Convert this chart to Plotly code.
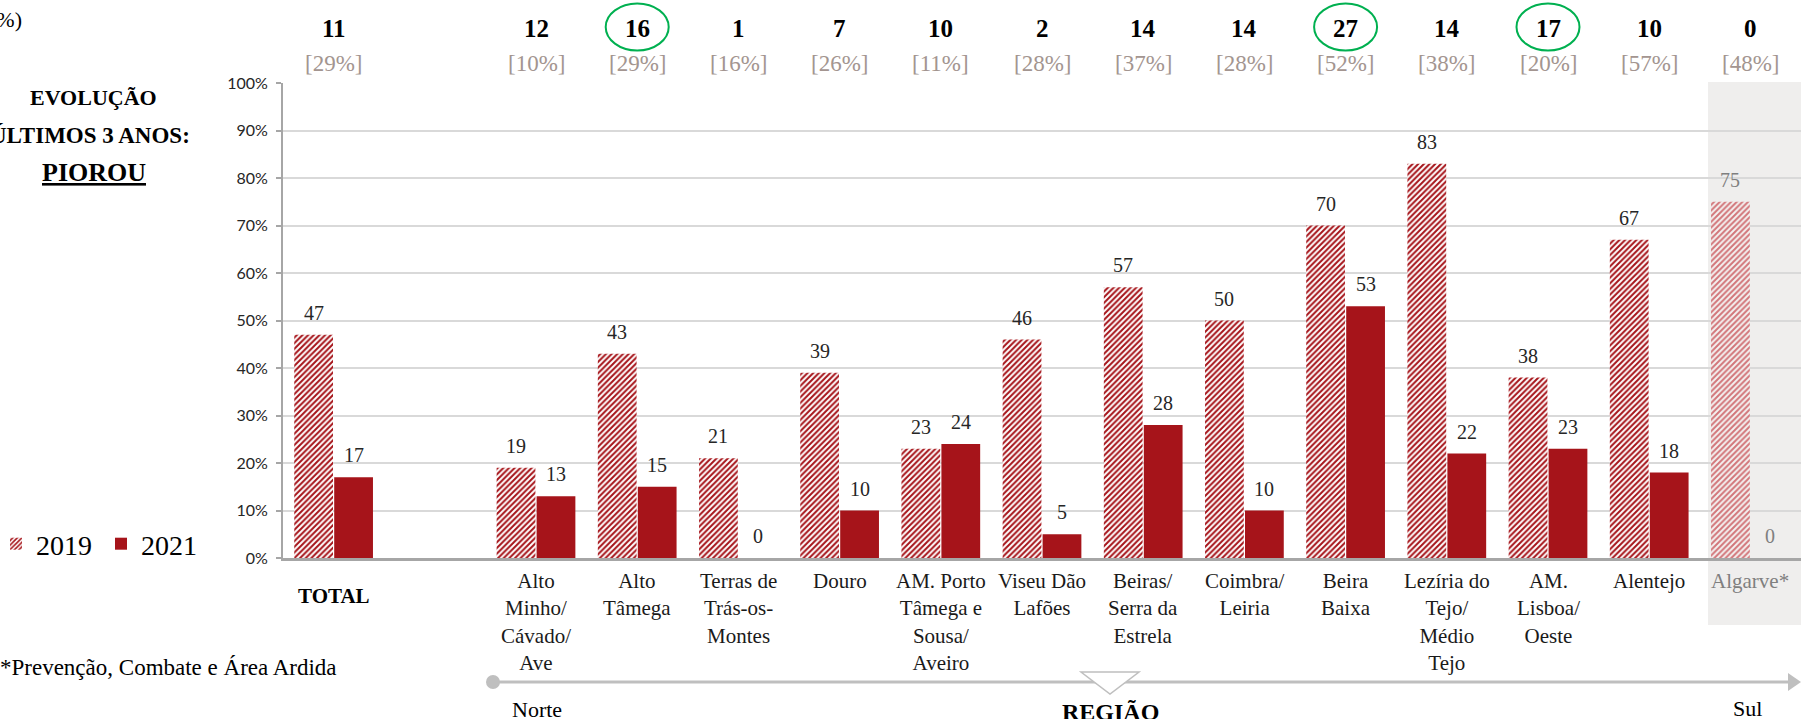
import plotly.graph_objects as go

# ---- data -------------------------------------------------------------
regions = [
    "Alto Minho/Cávado/Ave", "Alto Tâmega", "Terras de Trás-os-Montes", "Douro",
    "AM. Porto Tâmega e Sousa/Aveiro", "Viseu Dão Lafões", "Beiras/Serra da Estrela",
    "Coimbra/Leiria", "Beira Baixa", "Lezíria do Tejo/Médio Tejo", "AM. Lisboa/Oeste",
    "Alentejo", "Algarve*",
]
region_labels = [
    "Alto<br>Minho/<br>Cávado/<br>Ave", "Alto<br>Tâmega", "Terras de<br>Trás-os-<br>Montes",
    "Douro", "AM. Porto<br>Tâmega e<br>Sousa/<br>Aveiro", "Viseu Dão<br>Lafões",
    "Beiras/<br>Serra da<br>Estrela", "Coimbra/<br>Leiria", "Beira<br>Baixa",
    "Lezíria do<br>Tejo/<br>Médio<br>Tejo", "AM.<br>Lisboa/<br>Oeste", "Alentejo", "Algarve*",
]
categories = ["TOTAL"] + regions
values_2019 = [47, 19, 43, 21, 39, 23, 46, 57, 50, 70, 83, 38, 67, 75]
values_2021 = [17, 13, 15, 0, 10, 24, 5, 28, 10, 53, 22, 23, 18, 0]
counts = [11, 12, 16, 1, 7, 10, 2, 14, 14, 27, 14, 17, 10, 0]
shares = [29, 10, 29, 16, 26, 11, 28, 37, 28, 52, 38, 20, 57, 48]
highlighted = ["Alto Tâmega", "Beira Baixa", "AM. Lisboa/Oeste"]
muted = ["Algarve*"]
y_ticks = list(range(0, 101, 10))
y_tick_text = [f"{v}%" for v in y_ticks]

SPACER = " "
axis_order = ["TOTAL", SPACER] + regions

# ---- geometry helpers (pixels -> paper) ------------------------------
W, H = 1801, 719
L, R, T, B = 283, 1801, 83, 558


def px(x):
    return (x - L) / (R - L)


def py(y):
    return (B - y) / (B - T)


SERIF = "Liberation Serif"
RED = "#A6141A"
GREY_TXT = "#7F7F7F"

fg_2019 = ["#D27579" if c in muted else RED for c in categories]
bg_2019 = ["#F4F2F1" if c in muted else "white" for c in categories]

fig = go.Figure()
fig.add_trace(go.Bar(
    name="2019", x=categories, y=values_2019,
    marker=dict(color="white", line=dict(width=0),
                pattern=dict(shape="/", fgcolor=fg_2019, bgcolor=bg_2019,
                             size=4, solidity=0.5, fillmode="replace")),
    hoverinfo="skip",
))
fig.add_trace(go.Bar(
    name="2021", x=categories, y=values_2021,
    marker=dict(color=RED, line=dict(width=0)),
    hoverinfo="skip",
))

ann = []
shapes = []

# value labels above each bar
for c, v1, v2 in zip(categories, values_2019, values_2021):
    col = GREY_TXT if c in muted else "#262626"
    for v, dx in ((v1, -20), (v2, 20)):
        ann.append(dict(x=c, y=v, xref="x", yref="y", text=str(v), showarrow=False,
                        xshift=dx, yshift=9, yanchor="bottom",
                        font=dict(family=SERIF, size=20, color=col)))

# header: counts and shares
for c, n, s in zip(categories, counts, shares):
    ann.append(dict(x=c, y=py(29), xref="x", yref="paper", text=f"<b>{n}</b>",
                    showarrow=False, yanchor="middle",
                    font=dict(family=SERIF, size=25, color="#000000")))
    ann.append(dict(x=c, y=py(64), xref="x", yref="paper", text=f"[{s}%]",
                    showarrow=False, yanchor="middle",
                    font=dict(family=SERIF, size=23, color="#A39590")))
    if c in highlighted:
        shapes.append(dict(type="circle", xref="x", yref="paper",
                           xsizemode="pixel", ysizemode="pixel",
                           xanchor=c, yanchor=py(27),
                           x0=-31.5, x1=31.5, y0=-23.5, y1=23.5,
                           line=dict(color="#00B050", width=2)))

# category labels under the axis
ann.append(dict(x="TOTAL", y=py(582), xref="x", yref="paper", text="<b>TOTAL</b>",
                showarrow=False, yanchor="top",
                font=dict(family=SERIF, size=21, color="#000000")))
for c, lab in zip(regions, region_labels):
    ann.append(dict(x=c, y=py(567), xref="x", yref="paper", text=lab,
                    showarrow=False, yanchor="top", align="center",
                    font=dict(family=SERIF, size=21,
                              color=GREY_TXT if c in muted else "#1A1A1A")))

# left-hand side texts
ann += [
    dict(x=px(24), y=py(20), xref="paper", yref="paper", text="(%)", showarrow=False,
         xanchor="right", yanchor="middle", font=dict(family=SERIF, size=22, color="#000")),
    dict(x=px(93), y=py(97), xref="paper", yref="paper", text="<b>EVOLUÇÃO</b>",
         showarrow=False, xanchor="center", yanchor="middle",
         font=dict(family=SERIF, size=22, color="#000")),
    dict(x=px(192), y=py(135), xref="paper", yref="paper", text="<b>ÚLTIMOS 3 ANOS:</b>",
         showarrow=False, xanchor="right", yanchor="middle",
         font=dict(family=SERIF, size=23, color="#000")),
    dict(x=px(94), y=py(172), xref="paper", yref="paper", text="<b><u>PIOROU</u></b>",
         showarrow=False, xanchor="center", yanchor="middle",
         font=dict(family=SERIF, size=26, color="#000")),
    dict(x=px(-2), y=py(667), xref="paper", yref="paper",
         text="*Prevenção, Combate e Área Ardida", showarrow=False,
         xanchor="left", yanchor="middle", font=dict(family=SERIF, size=23, color="#000")),
    dict(x=px(537), y=py(709), xref="paper", yref="paper", text="Norte", showarrow=False,
         xanchor="center", yanchor="middle", font=dict(family=SERIF, size=22, color="#000")),
    dict(x=px(1747), y=py(708), xref="paper", yref="paper", text="Sul", showarrow=False,
         xanchor="center", yanchor="middle", font=dict(family=SERIF, size=22, color="#000")),
    dict(x=px(1110), y=py(697), xref="paper", yref="paper", text="<b>REGIÃO</b>",
         showarrow=False, xanchor="center", yanchor="top",
         font=dict(family=SERIF, size=24, color="#000")),
]

# shaded column behind the last region
shapes.append(dict(type="rect", xref="paper", yref="paper", layer="below",
                   x0=px(1708), x1=px(1801), y0=py(625), y1=py(82),
                   fillcolor="#EFEEED", line=dict(width=0)))

# north -> south arrow
shapes += [
    dict(type="line", xref="paper", yref="paper", x0=px(493), x1=px(1792),
         y0=py(682), y1=py(682), line=dict(color="#BFBFBF", width=3)),
    dict(type="circle", xref="paper", yref="paper", x0=px(486), x1=px(500),
         y0=py(689), y1=py(675), fillcolor="#BFBFBF", line=dict(width=0)),
    dict(type="path", xref="paper", yref="paper",
         path=f"M{px(1788)},{py(673)} L{px(1801)},{py(682)} L{px(1788)},{py(691)} Z",
         fillcolor="#BFBFBF", line=dict(width=0)),
    dict(type="path", xref="paper", yref="paper",
         path=f"M{px(1081)},{py(672)} L{px(1139)},{py(672)} L{px(1110)},{py(694)} Z",
         fillcolor="white", line=dict(color="#BFBFBF", width=1.5)),
]

fig.update_layout(
    width=W, height=H,
    margin=dict(l=L, r=W - R, t=T, b=H - B, pad=0, autoexpand=False),
    paper_bgcolor="white", plot_bgcolor="rgba(0,0,0,0)",
    barmode="group", bargap=0.21, bargroupgap=0.03,
    annotations=ann, shapes=shapes,
    showlegend=True,
    legend=dict(orientation="h", x=px(-4), y=py(544), xanchor="left", yanchor="middle",
                font=dict(family=SERIF, size=28, color="#000"),
                bgcolor="rgba(0,0,0,0)", itemclick=False, itemdoubleclick=False,
                entrywidth=60, tracegroupgap=0),
    font=dict(family=SERIF),
)
fig.update_xaxes(type="category", categoryorder="array", categoryarray=axis_order,
                 range=[-0.5, len(axis_order) - 0.5], showticklabels=False,
                 showline=True, linecolor="#A6A6A6", linewidth=3, ticks="",
                 showgrid=False, zeroline=False, fixedrange=True, automargin=False)
fig.update_yaxes(range=[0, 100], tickmode="array", tickvals=y_ticks, ticktext=y_tick_text,
                 showline=True, linecolor="#A6A6A6", linewidth=2,
                 ticks="outside", ticklen=5, tickcolor="#A6A6A6", tickwidth=1.5,
                 ticklabelstandoff=5,
                 tickfont=dict(family="Lato", size=16, color="#262626"),
                 showgrid=True, gridcolor="#D9D9D9", gridwidth=1.5,
                 zeroline=False, fixedrange=True, automargin=False)

fig.write_html("out.html")
